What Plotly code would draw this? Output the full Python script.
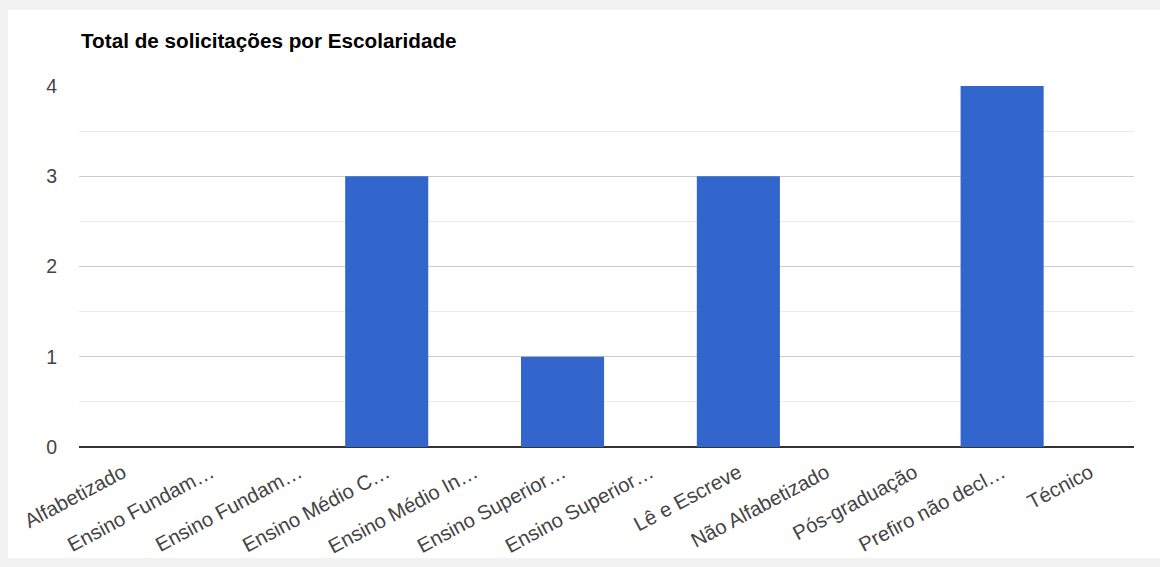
import plotly.graph_objects as go

categories = ["Alfabetizado", "Ensino Fundamental Completo", "Ensino Fundamental Incompleto",
              "Ensino Médio Completo", "Ensino Médio Incompleto", "Ensino Superior Completo",
              "Ensino Superior Incompleto", "Lê e Escreve", "Não Alfabetizado",
              "Pós-graduação", "Prefiro não declarar", "Técnico"]
tick_labels = ["Alfabetizado", "Ensino Fundam…", "Ensino Fundam…", "Ensino Médio C…",
               "Ensino Médio In…", "Ensino Superior…", "Ensino Superior…", "Lê e Escreve",
               "Não Alfabetizado", "Pós-graduação", "Prefiro não decl…", "Técnico"]
values = [0, 0, 0, 3, 0, 1, 0, 3, 0, 0, 4, 0]
y_ticks = [0, 1, 2, 3, 4]

W, H = 1160, 567
L, R, T, B = 79, 26, 86, 120
pw, ph = W - L - R, H - T - B
FONT = "Liberation Sans, Arial, sans-serif"

fig = go.Figure(go.Bar(x=categories, y=values, marker=dict(color="#3366cc", line=dict(width=0)),
                       hoverinfo="x+y"))

def px_to_paper_x(px):
    return (px - L) / pw

def px_to_paper_y(py):
    return (H - B - py) / ph

fig.add_shape(type="rect", xref="paper", yref="paper",
              x0=px_to_paper_x(8), x1=px_to_paper_x(1160),
              y0=px_to_paper_y(558), y1=px_to_paper_y(10),
              fillcolor="white", line=dict(width=0), layer="below")

fig.update_layout(
    width=W, height=H,
    margin=dict(l=L, r=R, t=T, b=B, pad=0, autoexpand=False),
    paper_bgcolor="#f2f2f2",
    plot_bgcolor="white",
    bargap=0.055,
    showlegend=False,
    font=dict(family=FONT, color="#444444"),
    title=dict(text="<b>Total de solicitações por Escolaridade</b>",
               font=dict(size=20.7, color="#000000", family=FONT),
               x=81 / W, xref="container", xanchor="left",
               y=1 - 41 / H, yref="container", yanchor="middle"),
    xaxis=dict(tickmode="array", tickvals=categories, ticktext=tick_labels,
               tickangle=-28, tickfont=dict(size=20.3, color="#444444"),
               showgrid=False, ticks="", showline=False, zeroline=False,
               ticklabelstandoff=9, automargin=False),
    yaxis=dict(range=[0, 4], tickvals=y_ticks, tickfont=dict(size=19.5, color="#444444"),
               showgrid=True, gridcolor="#cccccc", gridwidth=1,
               minor=dict(dtick=0.5, showgrid=True, gridcolor="#ebebeb", gridwidth=1, tick0=0),
               zeroline=True, zerolinecolor="#333333", zerolinewidth=2,
               ticks="", ticklabelstandoff=21, showline=False, automargin=False),
)

fig.write_html("out.html", config={"displayModeBar": False},
               post_script="document.body.style.margin='0';document.body.style.overflow='hidden';")
